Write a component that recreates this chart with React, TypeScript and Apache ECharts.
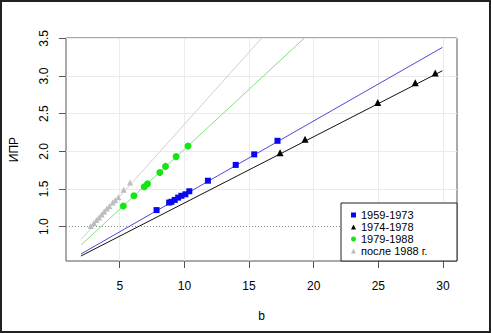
import React, { useEffect, useRef } from "react";
import * as echarts from "echarts";

// ---- data ----
const blueB = [7.85, 8.82, 9.0, 9.25, 9.52, 9.77, 10.08, 10.38, 11.82, 13.97, 15.4, 17.2];
const blueV = [1.22, 1.32, 1.33, 1.355, 1.386, 1.41, 1.43, 1.47, 1.61, 1.82, 1.96, 2.14];

const blackB = [17.4, 19.33, 24.95, 27.85, 29.4];
const blackV = [1.98, 2.16, 2.65, 2.91, 3.04];

const greenB = [5.28, 6.1, 6.9, 7.15, 8.1, 8.54, 9.36, 10.28];
const greenV = [1.275, 1.41, 1.53, 1.57, 1.72, 1.8, 1.93, 2.07];

const grayB = [2.75, 3.0, 3.2, 3.4, 3.6, 3.8, 4.0, 4.2, 4.45, 4.65, 4.9, 5.3, 5.8];
const grayV = [1.01, 1.05, 1.09, 1.12, 1.16, 1.2, 1.24, 1.27, 1.32, 1.35, 1.39, 1.49, 1.585];

// regression line end points
const blueLineB = [2.0, 29.95];
const blueLineV = [0.637, 3.38];
const blackLineB = [2.0, 29.95];
const blackLineV = [0.61, 3.07];
const greenLineB = [2.02, 19.25];
const greenLineV = [0.757, 3.5];
const grayLineB = [2.02, 15.96];
const grayLineV = [0.83, 3.5];

const xTicks = [5, 10, 15, 20, 25, 30];
const yTicks = [1.0, 1.5, 2.0, 2.5, 3.0, 3.5];
const refLine = 1.0;

const seriesNames = ["1959-1973", "1974-1978", "1979-1988", "после 1988 г."];

const FONT = "'Liberation Sans', Arial, sans-serif";

const zip = (a: number[], b: number[]) => a.map((v, i) => [v, b[i]]);

export default function App() {
  const ref = useRef<HTMLDivElement>(null);
  useEffect(() => {
    document.body.style.margin = "0";
    if (!ref.current) return;
    const chart = echarts.init(ref.current, null, { renderer: "svg" });

    const lineSeries = (b: number[], v: number[], color: string) => ({
      type: "line",
      data: zip(b, v),
      showSymbol: false,
      symbol: "none",
      lineStyle: { color, width: 1 },
      z: 2,
      silent: true,
    });

    const gridMarks = {
      silent: true,
      symbol: "none",
      label: { show: false },
      z: 1,
      data: [
        ...xTicks.map((x) => ({ xAxis: x, lineStyle: { color: "#ebebeb", width: 1, type: "solid" } })),
        ...yTicks
          .filter((y) => y !== refLine)
          .map((y) => ({ yAxis: y, lineStyle: { color: "#ebebeb", width: 1, type: "solid" } })),
        { yAxis: refLine, lineStyle: { color: "#8a8a8a", width: 1, type: [1, 2] } },
      ],
    };

    const scatter = (name: string, symbol: string, size: number, color: string, b: number[], v: number[]) => ({
      name,
      type: "scatter",
      symbol,
      symbolSize: size,
      itemStyle: { color, opacity: 1 },
      data: zip(b, v),
      z: 3,
    });

    const option: any = {
      animation: false,
      textStyle: { fontFamily: FONT },
      grid: {
        left: 64,
        top: 38,
        right: 34,
        bottom: 73,
        show: true,
        borderColor: "#555",
        borderWidth: 1,
        backgroundColor: "transparent",
      },
      xAxis: {
        type: "value",
        min: 0.846,
        max: 31.08,
        name: "b",
        nameLocation: "middle",
        nameGap: 49,
        nameTextStyle: { fontSize: 12, color: "#000", fontFamily: FONT },
        axisLine: { show: false },
        splitLine: { show: false },
        axisTick: {
          show: true,
          length: 7,
          customValues: xTicks,
          lineStyle: { color: "#555" },
        },
        axisLabel: {
          customValues: xTicks,
          margin: 19,
          fontSize: 12,
          color: "#000",
          fontFamily: FONT,
        },
      },
      yAxis: {
        type: "value",
        min: 0.544,
        max: 3.505,
        name: "ИПР",
        nameLocation: "middle",
        nameGap: 46,
        nameTextStyle: { fontSize: 12, color: "#000", fontFamily: FONT },
        axisLine: { show: false },
        splitLine: { show: false },
        axisTick: {
          show: true,
          length: 7,
          customValues: yTicks,
          lineStyle: { color: "#555" },
        },
        axisLabel: {
          customValues: yTicks,
          rotate: 90,
          margin: 16,
          fontSize: 12,
          color: "#000",
          fontFamily: FONT,
          formatter: (v: number) => v.toFixed(1),
        },
      },
      legend: {
        orient: "vertical",
        left: 351,
        top: 209,
        padding: 0,
        itemGap: 0,
        itemWidth: 5,
        itemHeight: 5,
        itemTextGap: 13,
        selectedMode: false,
        z: 20,
        textStyle: { fontSize: 11, lineHeight: 12, color: "#000", fontFamily: FONT },
        data: seriesNames,
      },
      graphic: [
        {
          type: "rect",
          shape: { x: 341, y: 203, width: 116, height: 58 },
          style: { fill: "#fff", stroke: "#222", lineWidth: 1 },
          z: 10,
          silent: true,
        },
        {
          type: "rect",
          shape: { x: 1, y: 1, width: 489, height: 331 },
          style: { fill: "none", stroke: "#222", lineWidth: 2 },
          z: 30,
          silent: true,
        },
      ],
      series: [
        { ...lineSeries(blueLineB, blueLineV, "#4a4ad6"), markLine: gridMarks },
        lineSeries(blackLineB, blackLineV, "#111"),
        lineSeries(greenLineB, greenLineV, "#7fdf7f"),
        lineSeries(grayLineB, grayLineV, "#d0d0d0"),
        scatter(seriesNames[0], "rect", 6, "#0808ee", blueB, blueV),
        scatter(seriesNames[1], "triangle", 7, "#000", blackB, blackV),
        scatter(seriesNames[2], "circle", 7, "#10e810", greenB, greenV),
        scatter(seriesNames[3], "triangle", 6, "#bdbdbd", grayB, grayV),
      ],
    };
    chart.setOption(option);
    return () => chart.dispose();
  }, []);
  return <div ref={ref} style={{ width: 491, height: 334 }} />;
}
